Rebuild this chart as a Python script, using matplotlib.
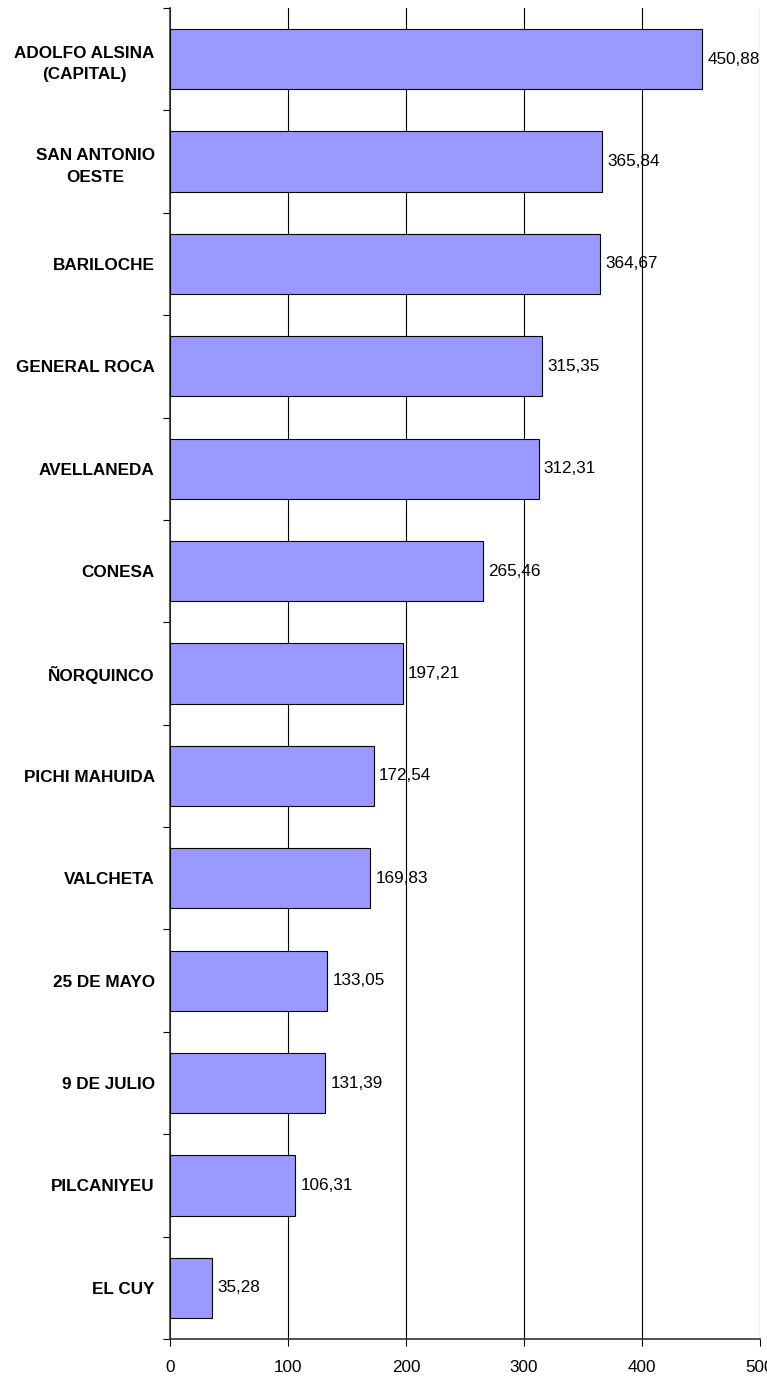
import matplotlib as mpl; mpl.use('Agg')
import matplotlib.pyplot as plt
import numpy as np

mpl.rcParams.update({'font.family': ['Liberation Sans', 'DejaVu Sans']})

categories = ['ADOLFO ALSINA\n(CAPITAL)', 'SAN ANTONIO\nOESTE', 'BARILOCHE', 'GENERAL ROCA',
              'AVELLANEDA', 'CONESA', 'ÑORQUINCO', 'PICHI MAHUIDA', 'VALCHETA',
              '25 DE MAYO', '9 DE JULIO', 'PILCANIYEU', 'EL CUY']
values = [450.88, 365.84, 364.67, 315.35, 312.31, 265.46, 197.21,
          172.54, 169.83, 133.05, 131.39, 106.31, 35.28]
xticks = [0, 100, 200, 300, 400, 500]

fig = plt.figure(figsize=(7.67, 13.82), dpi=100)
ax = fig.add_axes([170 / 767, 1 - 1339 / 1382, 590 / 767, (1339 - 8) / 1382])

y = np.arange(len(categories))
ax.barh(y, values, height=1 / 1.7, color='#9999FF', edgecolor='black', linewidth=0.8, zorder=3)
for yi, v in zip(y, values):
    ax.text(v + 4.5, yi, f'{v:.2f}'.replace('.', ','), va='center', ha='left', fontsize=12.3, zorder=4)

ax.set_xlim(0, 500)
ax.set_ylim(len(categories) - 0.5, -0.5)
ax.set_xticks(xticks)
ax.set_xticklabels([str(t) for t in xticks], fontsize=12.3)
ax.xaxis.grid(True, color='black', linewidth=0.8, zorder=0)
ax.set_axisbelow(True)

# category labels between tick marks at the slot boundaries
ax.set_yticks(np.arange(len(categories) + 1) - 0.5)
ax.set_yticklabels([])
ax.set_yticks(y, minor=True)
ax.set_yticklabels(categories, minor=True, fontsize=12.3, fontweight='bold',
                   multialignment='center', linespacing=1.55)
ax.tick_params(axis='y', which='minor', length=0, pad=11)
ax.tick_params(axis='y', which='major', length=5, width=0.8, direction='out')
ax.tick_params(axis='x', length=5, width=0.8, direction='out', pad=10)

for s in ['top', 'right']:
    ax.spines[s].set_visible(False)
for s in ['left', 'bottom']:
    ax.spines[s].set_linewidth(1.2)
    ax.spines[s].set_color('#333333')

fig.savefig('out.png', dpi=100)
